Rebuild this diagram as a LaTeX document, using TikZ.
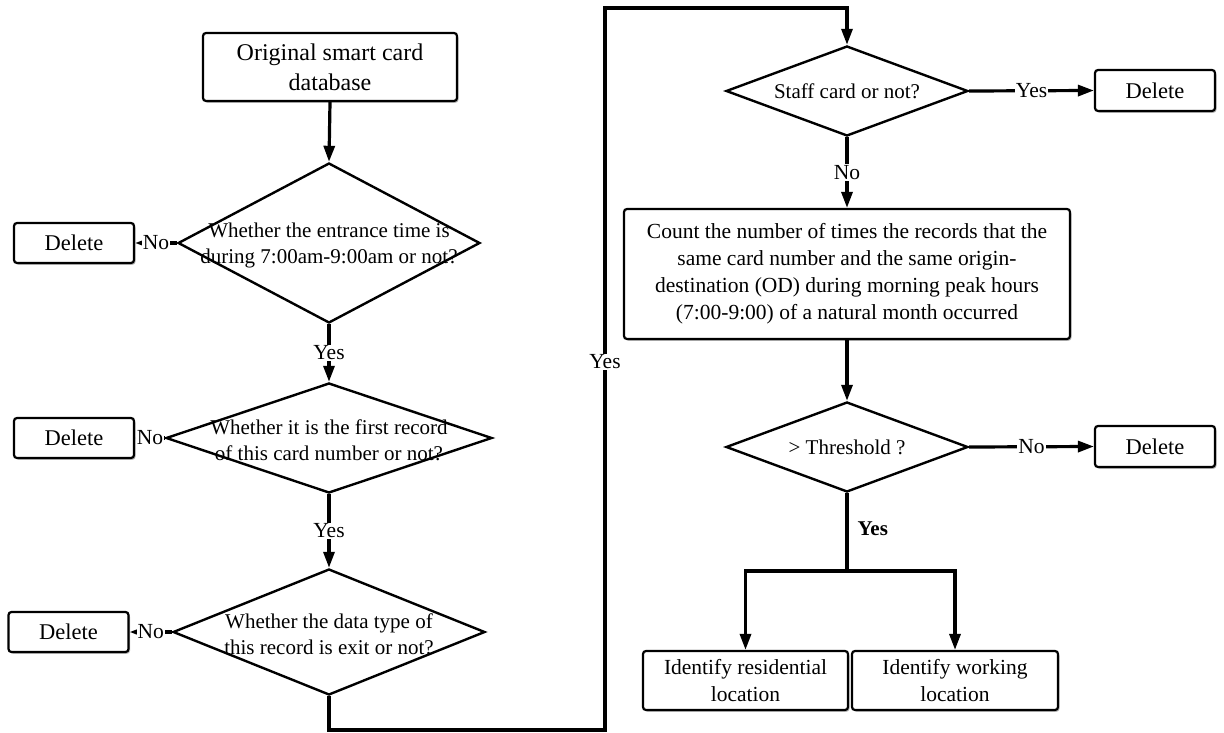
\documentclass[tikz,border=0pt]{standalone}
\usepackage{fontspec}
\setmainfont{Liberation Serif}
\usetikzlibrary{shapes.geometric,arrows.meta,shadows}
\begin{document}
\begin{tikzpicture}[x=1pt,y=-1pt,
  box/.style={draw, line width=2.2pt, rounded corners=3pt, fill=white, align=center, inner sep=0pt,
    font=\fontsize{21.5}{27}\selectfont,
    drop shadow={shadow xshift=1.5pt, shadow yshift=-1.8pt, fill=black!45, opacity=0.6}},
  delbox/.style={box, minimum width=120pt, minimum height=40pt, font=\fontsize{22.5}{27}\selectfont},
  dia/.style={draw, diamond, line width=2.4pt, inner sep=0pt},
  txt/.style={align=center, inner sep=0pt, font=\fontsize{21}{26}\selectfont},
  conn/.style={line width=3.2pt, -{Triangle[length=16pt,width=11pt]}},
  plain/.style={line width=3.2pt},
  lbl/.style={fill=white, inner sep=1pt, font=\fontsize{21.5}{26}\selectfont},
]
\useasboundingbox (0,0) rectangle (1224,733);

% left column
\node[box, minimum width=254pt, minimum height=68pt, font=\fontsize{24}{30}\selectfont] (top) at (330,67) {Original smart card\\database};
\node[dia, minimum width=302pt, minimum height=160pt] (d1) at (329,243) {};
\node[txt] (d1t) at (329,245) {Whether the entrance time is\\during 7:00am-9:00am or not?};
\node[delbox] (x1) at (74,243) {Delete};

\node[dia, minimum width=326pt, minimum height=110pt] (d2) at (329,438) {};
\node[txt] (d2t) at (329,440) {Whether it is the first record\\of this card number or not?};
\node[delbox] (x2) at (74,438) {Delete};

\node[dia, minimum width=312pt, minimum height=126pt] (d3) at (329,632) {};
\node[txt] (d3t) at (329,634) {Whether the data type of\\this record is exit or not?};
\node[delbox] (x3) at (68.5,632) {Delete};

% right column
\node[dia, minimum width=242pt, minimum height=90pt] (s) at (847,91) {};
\node[txt] (st) at (847,91) {Staff card or not?};
\node[delbox, minimum height=41pt] (x4) at (1155,90.5) {Delete};

\node[box, minimum width=446pt, minimum height=130pt] (cnt) at (847,274) {Count the number of times the records that the\\same card number and the same origin-\\destination (OD) during morning peak hours\\(7:00-9:00) of a natural month occurred};

\node[dia, minimum width=242pt, minimum height=90pt] (th) at (847,447) {};
\node[txt] (tht) at (847,447) {\textgreater\ Threshold ?};
\node[delbox, minimum height=41pt] (x5) at (1155,446.5) {Delete};

\node[box, minimum width=205pt, minimum height=59pt] (res) at (745.5,680.5) {Identify residential\\location};
\node[box, minimum width=206pt, minimum height=59pt] (wrk) at (955,680.5) {Identify working\\location};

% connectors
\draw[conn] (top.south) -- (d1.north);
\draw[conn] (d1.west) -- node[lbl]{No} (x1.east);
\draw[conn] (d1.south) -- node[lbl]{Yes} (d2.north);
\draw[conn] (d2.west) -- node[lbl]{No} (x2.east);
\draw[conn] (d2.south) -- node[lbl]{Yes} (d3.north);
\draw[conn] (d3.west) -- node[lbl]{No} (x3.east);

\coordinate (c1) at (605,730);
\coordinate (c2) at (605,8);
\draw[conn] (d3.south) |- (c1) -- node[lbl, pos=0.51]{Yes} (c2) -| (s.north);

\draw[conn] (s.east) -- node[lbl]{Yes} (x4.west);
\draw[conn] (s.south) -- node[lbl]{No} (cnt.north);
\draw[conn] (cnt.south) -- (th.north);
\draw[conn] (th.east) -- node[lbl]{No} (x5.west);

\coordinate (j) at (847,571);
\draw[plain] (th.south) -- node[right=9pt, pos=0.46, inner sep=0pt, font=\bfseries\fontsize{21}{26}\selectfont]{Yes} (j);
\draw[conn] (j) -| (res.north);
\draw[conn] (j) -| (wrk.north);
\end{tikzpicture}
\end{document}
